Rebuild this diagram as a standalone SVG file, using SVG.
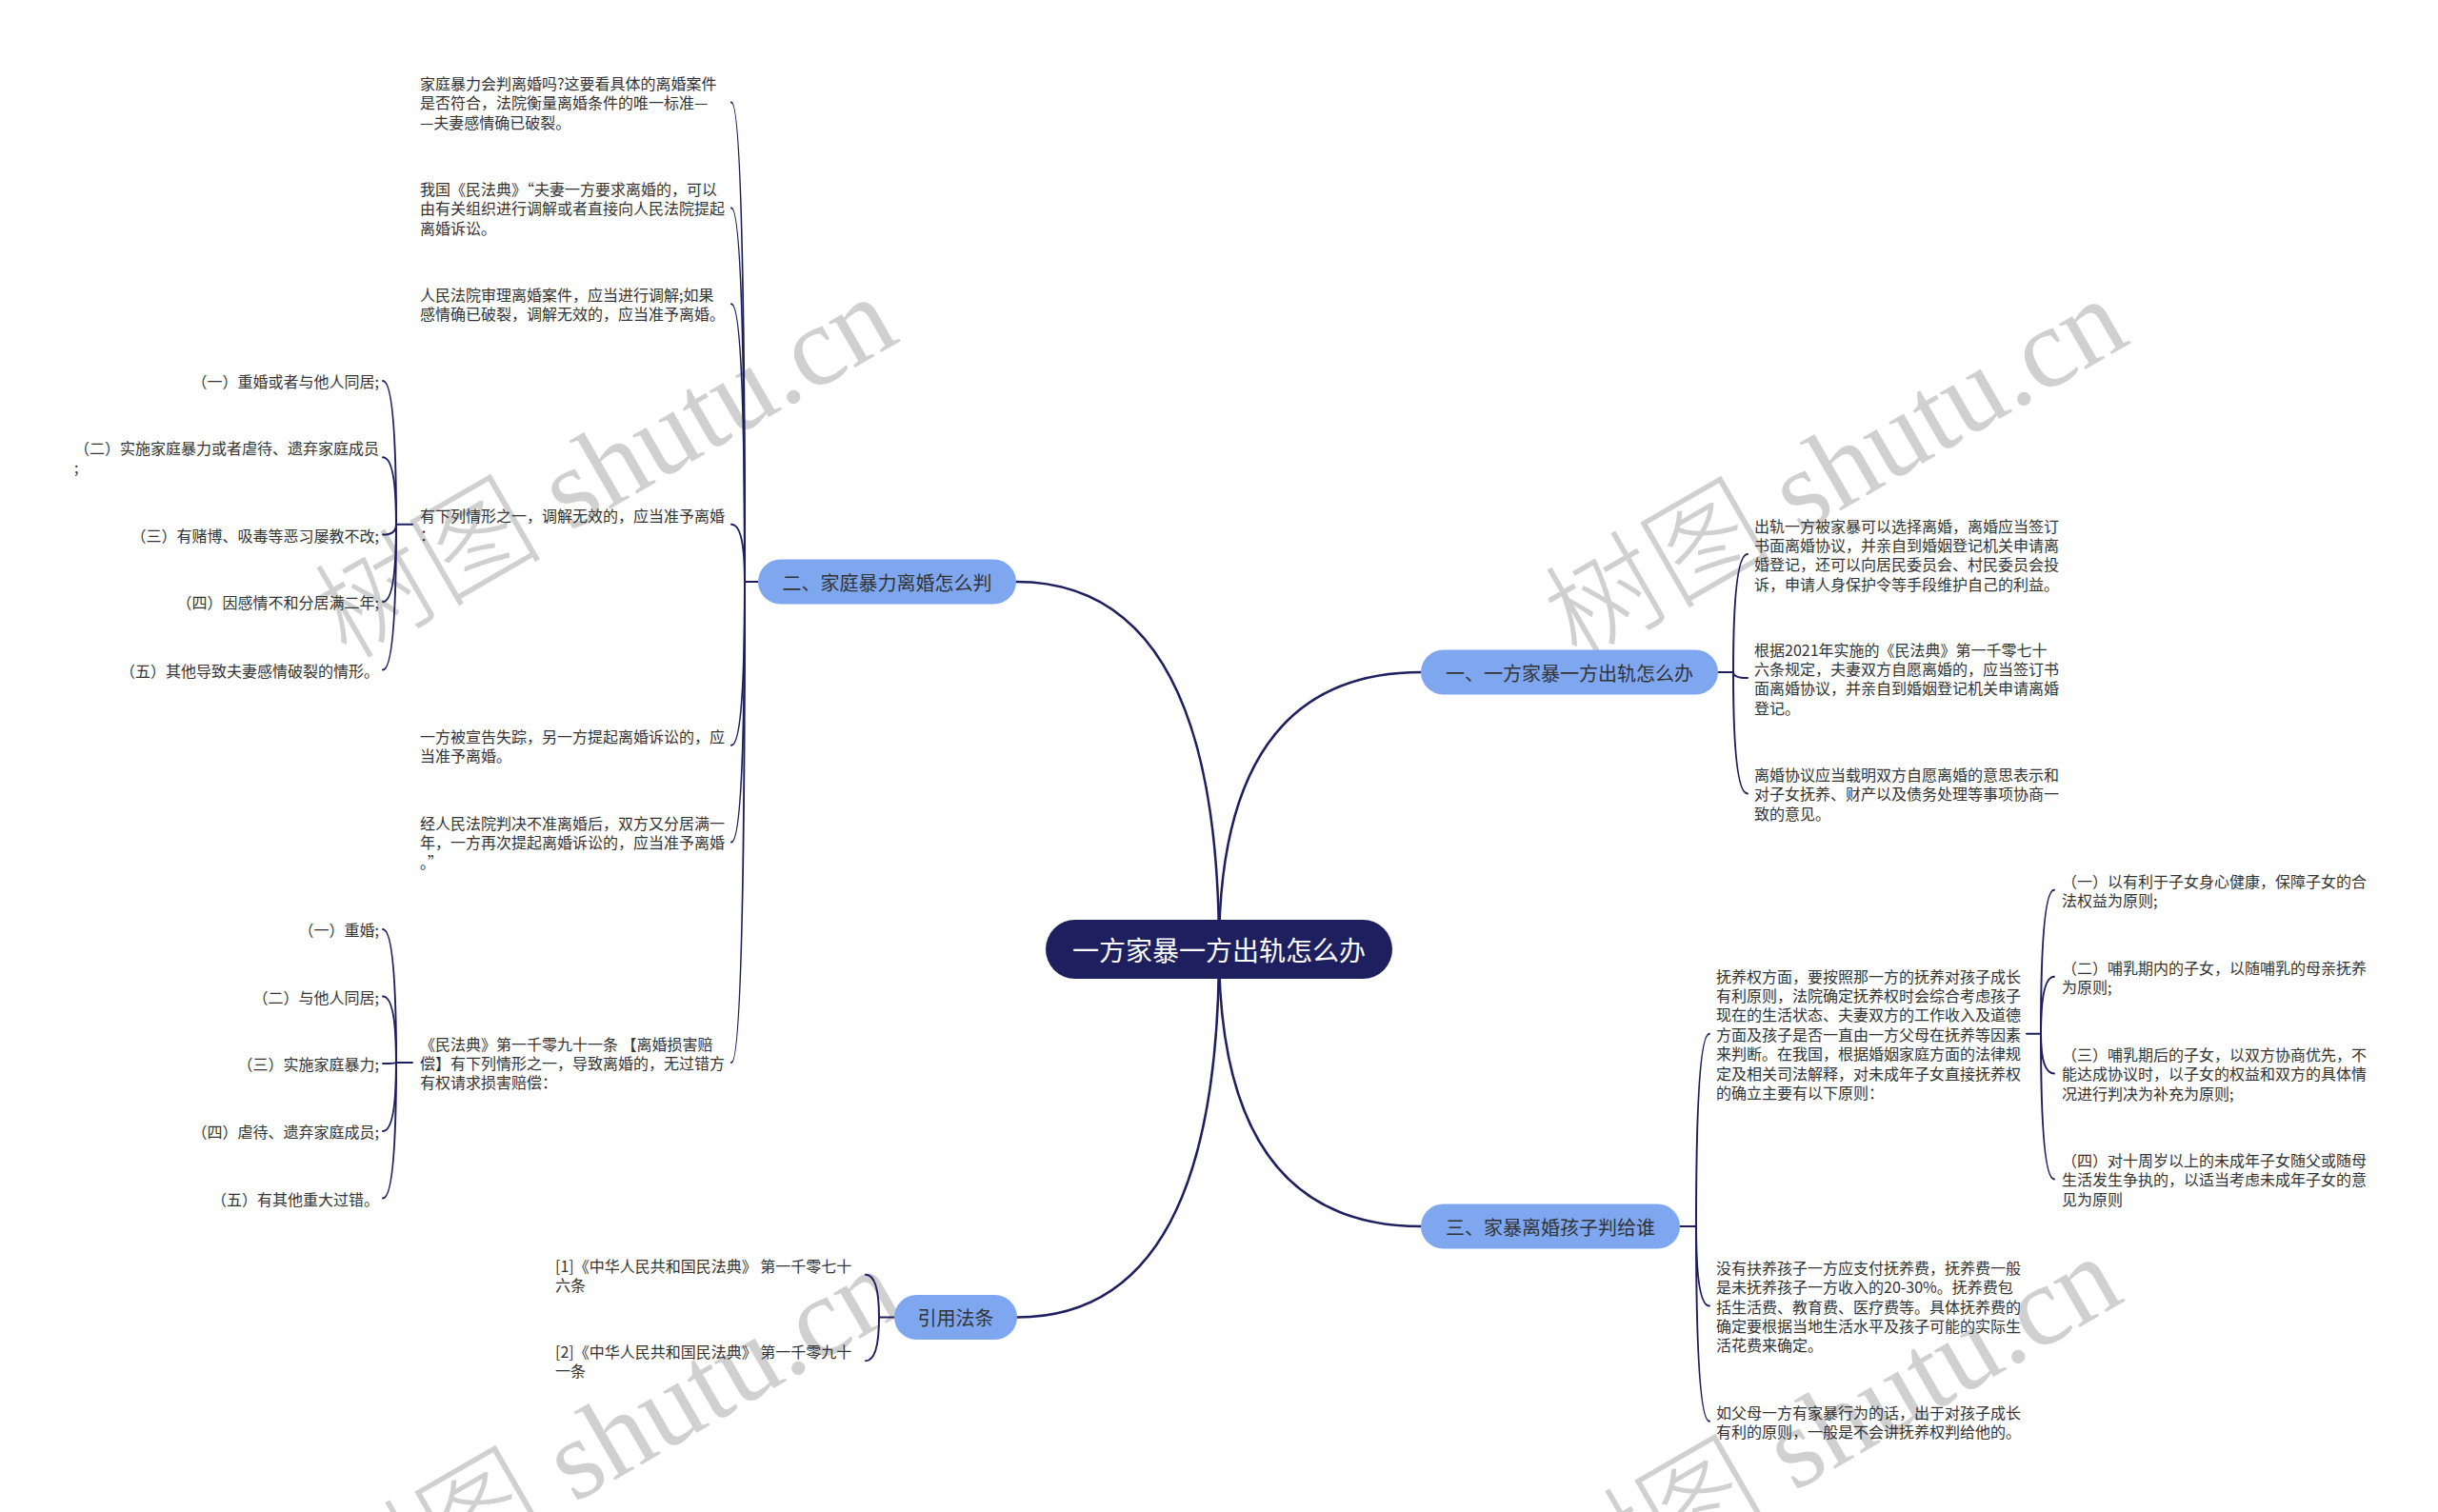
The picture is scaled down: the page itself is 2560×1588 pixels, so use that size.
<svg xmlns="http://www.w3.org/2000/svg" width="2560" height="1588" viewBox="0 0 2560 1588">
<style>
.t{font-family:"Noto Sans CJK SC","Microsoft YaHei",sans-serif;font-size:16px;fill:#333;dominant-baseline:central}
.e{text-anchor:end}
.b{font-family:"Noto Sans CJK SC","Microsoft YaHei",sans-serif;font-size:20px;fill:#333;text-anchor:middle;dominant-baseline:central}
.c{font-family:"Noto Sans CJK SC","Microsoft YaHei",sans-serif;font-size:28px;fill:#fff;text-anchor:middle;dominant-baseline:central}
.pill{fill:#7ea7f0}
.root{fill:#1d1f5e}
.ln{fill:none;stroke:#1d1f5e;stroke-width:2;stroke-linecap:round}
.lm{fill:none;stroke:#1d1f5e;stroke-width:2.5;stroke-linecap:round}
.wm{font-family:"Liberation Serif",serif;font-size:120px;fill:#d0d0d0}
.wmc{font-family:"Noto Sans CJK SC",sans-serif;font-weight:300}
</style>
<rect width="2560" height="1588" fill="#fff"/>
<g id="watermarks">
<text class="wm" transform="translate(364 694) rotate(-30)"><tspan class="wmc">树图</tspan> shutu.cn</text>
<text class="wm" transform="translate(1656 696) rotate(-30)"><tspan class="wmc">树图</tspan> shutu.cn</text>
<text class="wm" transform="translate(369 1714) rotate(-30)"><tspan class="wmc">树图</tspan> shutu.cn</text>
<text class="wm" transform="translate(1650 1702) rotate(-30)"><tspan class="wmc">树图</tspan> shutu.cn</text>
</g>
<g id="connectors">
<path class="lm" d="M1280 997 Q1280 706 1492 706"/>
<path class="lm" d="M1280 997 Q1280 611 1067 611"/>
<path class="lm" d="M1280 997 Q1280 1288 1492 1288"/>
<path class="lm" d="M1280 997 Q1280 1383.5 1068 1383.5"/>
<path class="ln" d="M796 611 H782"/>
<path class="ln" d="M782 611 Q782 107.4 768 107.4"/>
<path class="ln" d="M782 611 Q782 218.4 768 218.4"/>
<path class="ln" d="M782 611 Q782 319.2 768 319.2"/>
<path class="ln" d="M782 611 Q782 550.7 768 550.7"/>
<path class="ln" d="M782 611 Q782 782.7 768 782.7"/>
<path class="ln" d="M782 611 Q782 884.4 768 884.4"/>
<path class="ln" d="M782 611 Q782 1116 768 1116"/>
<path class="ln" d="M433 550.7 H416"/>
<path class="ln" d="M416 550.7 Q416 400 402 400"/>
<path class="ln" d="M416 550.7 Q416 480.2 402 480.2"/>
<path class="ln" d="M416 550.7 Q416 561.6 402 561.6"/>
<path class="ln" d="M416 550.7 Q416 632 402 632"/>
<path class="ln" d="M416 550.7 Q416 703.5 402 703.5"/>
<path class="ln" d="M433 1116 H416"/>
<path class="ln" d="M416 1116 Q416 976 402 976"/>
<path class="ln" d="M416 1116 Q416 1046.6 402 1046.6"/>
<path class="ln" d="M416 1116 Q416 1117 402 1117"/>
<path class="ln" d="M416 1116 Q416 1188 402 1188"/>
<path class="ln" d="M416 1116 Q416 1258.5 402 1258.5"/>
<path class="ln" d="M1804 706 H1820"/>
<path class="ln" d="M1820 706 Q1820 582.1 1835 582.1"/>
<path class="ln" d="M1820 706 Q1820 712.1 1835 712.1"/>
<path class="ln" d="M1820 706 Q1820 833.4 1835 833.4"/>
<path class="ln" d="M1764 1288 H1781"/>
<path class="ln" d="M1781 1288 Q1781 1085.7 1795 1085.7"/>
<path class="ln" d="M1781 1288 Q1781 1371.5 1795 1371.5"/>
<path class="ln" d="M1781 1288 Q1781 1492.7 1795 1492.7"/>
<path class="ln" d="M2128 1085.7 H2143"/>
<path class="ln" d="M2143 1085.7 Q2143 934.7 2157 934.7"/>
<path class="ln" d="M2143 1085.7 Q2143 1025.7 2157 1025.7"/>
<path class="ln" d="M2143 1085.7 Q2143 1127.4 2157 1127.4"/>
<path class="ln" d="M2143 1085.7 Q2143 1238.4 2157 1238.4"/>
<path class="ln" d="M939 1383.5 H923"/>
<path class="ln" d="M923 1383.5 Q923 1338.7 909 1338.7"/>
<path class="ln" d="M923 1383.5 Q923 1429.2 909 1429.2"/>
</g>
<g id="root"><rect class="root" x="1098" y="966" width="364" height="62" rx="31"/><text class="c" x="1280" y="997">一方家暴一方出轨怎么办</text></g>
<g id="b1"><rect class="pill" x="1492" y="682.5" width="312" height="47" rx="23.5"/><text class="b" x="1648" y="706">一、一方家暴一方出轨怎么办</text></g>
<g id="b2"><rect class="pill" x="796" y="587.5" width="271" height="47" rx="23.5"/><text class="b" x="931.5" y="611">二、家庭暴力离婚怎么判</text></g>
<g id="b3"><rect class="pill" x="1492" y="1264.5" width="272" height="47" rx="23.5"/><text class="b" x="1628" y="1288">三、家暴离婚孩子判给谁</text></g>
<g id="b4"><rect class="pill" x="939" y="1360" width="129" height="47" rx="23.5"/><text class="b" x="1003.5" y="1383.5">引用法条</text></g>
<g id="n2-1"><text class="t"><tspan x="441" y="87">家庭暴力会判离婚吗?这要看具体的离婚案件</tspan><tspan x="441" y="107.4">是否符合，法院衡量离婚条件的唯一标准—</tspan><tspan x="441" y="127.8">—夫妻感情确已破裂。</tspan></text></g>
<g id="n2-2"><text class="t"><tspan x="441" y="198">我国《民法典》“夫妻一方要求离婚的，可以</tspan><tspan x="441" y="218.4">由有关组织进行调解或者直接向人民法院提起</tspan><tspan x="441" y="238.8">离婚诉讼。</tspan></text></g>
<g id="n2-3"><text class="t"><tspan x="441" y="309">人民法院审理离婚案件，应当进行调解;如果</tspan><tspan x="441" y="329.4">感情确已破裂，调解无效的，应当准予离婚。</tspan></text></g>
<g id="n2-4"><text class="t"><tspan x="441" y="540.5">有下列情形之一，调解无效的，应当准予离婚</tspan><tspan x="441" y="561">：</tspan></text></g>
<g id="n2-4-1"><text class="t e" x="398" y="400">（一）重婚或者与他人同居;</text></g>
<g id="n2-4-2"><text class="t"><tspan x="78" y="470">（二）实施家庭暴力或者虐待、遗弃家庭成员</tspan><tspan x="78" y="490.4">;</tspan></text></g>
<g id="n2-4-3"><text class="t e" x="398" y="561.6">（三）有赌博、吸毒等恶习屡教不改;</text></g>
<g id="n2-4-4"><text class="t e" x="398" y="632">（四）因感情不和分居满二年;</text></g>
<g id="n2-4-5"><text class="t e" x="398" y="703.5">（五）其他导致夫妻感情破裂的情形。</text></g>
<g id="n2-5"><text class="t"><tspan x="441" y="772.5">一方被宣告失踪，另一方提起离婚诉讼的，应</tspan><tspan x="441" y="793">当准予离婚。</tspan></text></g>
<g id="n2-6"><text class="t"><tspan x="441" y="864">经人民法院判决不准离婚后，双方又分居满一</tspan><tspan x="441" y="884.4">年，一方再次提起离婚诉讼的，应当准予离婚</tspan><tspan x="441" y="904.8">。”</tspan></text></g>
<g id="n2-7"><text class="t"><tspan x="441" y="1095.5">《民法典》第一千零九十一条 【离婚损害赔</tspan><tspan x="441" y="1116">偿】有下列情形之一，导致离婚的，无过错方</tspan><tspan x="441" y="1136.4">有权请求损害赔偿：</tspan></text></g>
<g id="n2-7-1"><text class="t e" x="398" y="976">（一）重婚;</text></g>
<g id="n2-7-2"><text class="t e" x="398" y="1046.6">（二）与他人同居;</text></g>
<g id="n2-7-3"><text class="t e" x="398" y="1117">（三）实施家庭暴力;</text></g>
<g id="n2-7-4"><text class="t e" x="398" y="1188">（四）虐待、遗弃家庭成员;</text></g>
<g id="n2-7-5"><text class="t e" x="398" y="1258.5">（五）有其他重大过错。</text></g>
<g id="n1-1"><text class="t"><tspan x="1842" y="551.5">出轨一方被家暴可以选择离婚，离婚应当签订</tspan><tspan x="1842" y="571.9">书面离婚协议，并亲自到婚姻登记机关申请离</tspan><tspan x="1842" y="592.3">婚登记，还可以向居民委员会、村民委员会投</tspan><tspan x="1842" y="612.7">诉，申请人身保护令等手段维护自己的利益。</tspan></text></g>
<g id="n1-2"><text class="t"><tspan x="1842" y="681.5">根据2021年实施的《民法典》第一千零七十</tspan><tspan x="1842" y="701.9">六条规定，夫妻双方自愿离婚的，应当签订书</tspan><tspan x="1842" y="722.3">面离婚协议，并亲自到婚姻登记机关申请离婚</tspan><tspan x="1842" y="742.7">登记。</tspan></text></g>
<g id="n1-3"><text class="t"><tspan x="1842" y="813">离婚协议应当载明双方自愿离婚的意思表示和</tspan><tspan x="1842" y="833.4">对子女抚养、财产以及债务处理等事项协商一</tspan><tspan x="1842" y="853.8">致的意见。</tspan></text></g>
<g id="n3-1"><text class="t"><tspan x="1802" y="1024.5">抚养权方面，要按照那一方的抚养对孩子成长</tspan><tspan x="1802" y="1044.9">有利原则，法院确定抚养权时会综合考虑孩子</tspan><tspan x="1802" y="1065.3">现在的生活状态、夫妻双方的工作收入及道德</tspan><tspan x="1802" y="1085.7">方面及孩子是否一直由一方父母在抚养等因素</tspan><tspan x="1802" y="1106.1">来判断。在我国，根据婚姻家庭方面的法律规</tspan><tspan x="1802" y="1126.5">定及相关司法解释，对未成年子女直接抚养权</tspan><tspan x="1802" y="1146.9">的确立主要有以下原则：</tspan></text></g>
<g id="n3-1-1"><text class="t"><tspan x="2165" y="924.5">（一）以有利于子女身心健康，保障子女的合</tspan><tspan x="2165" y="944.9">法权益为原则;</tspan></text></g>
<g id="n3-1-2"><text class="t"><tspan x="2165" y="1015.5">（二）哺乳期内的子女，以随哺乳的母亲抚养</tspan><tspan x="2165" y="1035.9">为原则;</tspan></text></g>
<g id="n3-1-3"><text class="t"><tspan x="2165" y="1107">（三）哺乳期后的子女，以双方协商优先，不</tspan><tspan x="2165" y="1127.4">能达成协议时，以子女的权益和双方的具体情</tspan><tspan x="2165" y="1147.8">况进行判决为补充为原则;</tspan></text></g>
<g id="n3-1-4"><text class="t"><tspan x="2165" y="1218">（四）对十周岁以上的未成年子女随父或随母</tspan><tspan x="2165" y="1238.4">生活发生争执的，以适当考虑未成年子女的意</tspan><tspan x="2165" y="1258.8">见为原则</tspan></text></g>
<g id="n3-2"><text class="t"><tspan x="1802" y="1330.7">没有扶养孩子一方应支付抚养费，抚养费一般</tspan><tspan x="1802" y="1351.1">是未抚养孩子一方收入的20-30%。抚养费包</tspan><tspan x="1802" y="1371.5">括生活费、教育费、医疗费等。具体抚养费的</tspan><tspan x="1802" y="1391.9">确定要根据当地生活水平及孩子可能的实际生</tspan><tspan x="1802" y="1412.3">活花费来确定。</tspan></text></g>
<g id="n3-3"><text class="t"><tspan x="1802" y="1482.5">如父母一方有家暴行为的话，出于对孩子成长</tspan><tspan x="1802" y="1502.9">有利的原则，一般是不会讲抚养权判给他的。</tspan></text></g>
<g id="n4-1"><text class="t"><tspan x="583" y="1328.5">[1]《中华人民共和国民法典》 第一千零七十</tspan><tspan x="583" y="1348.9">六条</tspan></text></g>
<g id="n4-2"><text class="t"><tspan x="583" y="1419">[2]《中华人民共和国民法典》 第一千零九十</tspan><tspan x="583" y="1439.4">一条</tspan></text></g>
</svg>
